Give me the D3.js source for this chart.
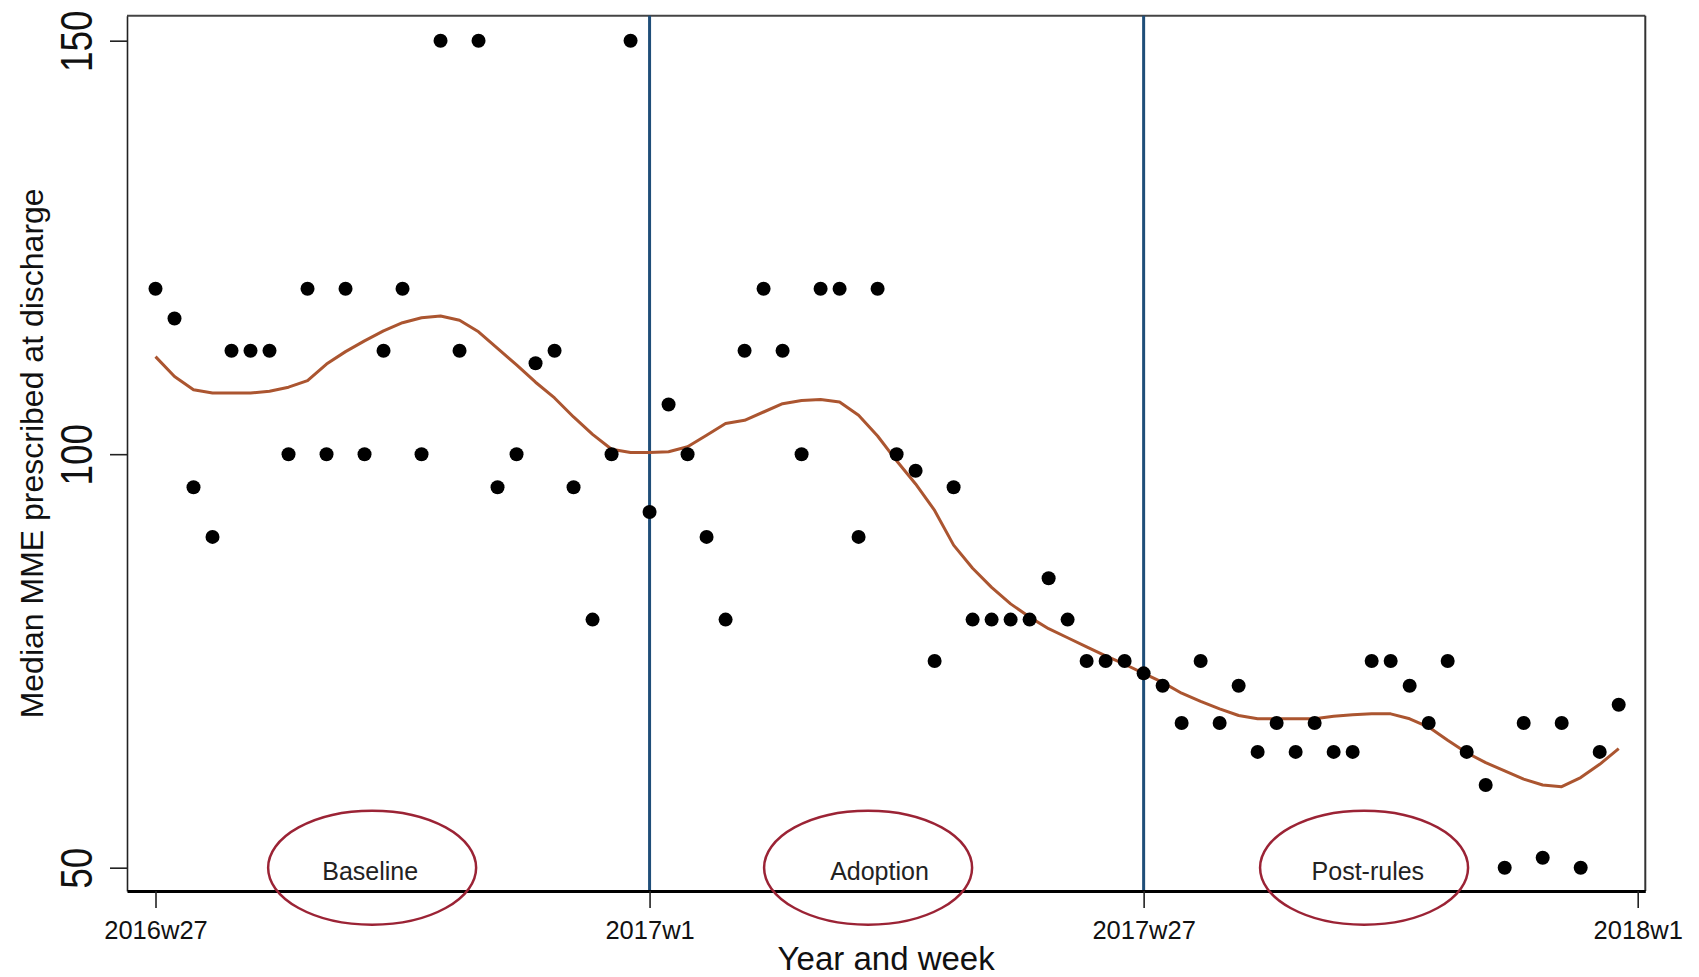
<!DOCTYPE html>
<html>
<head>
<meta charset="utf-8">
<script src="https://cdn.jsdelivr.net/npm/d3@7"></script>
<style>
  body { margin: 0; background: #fff; }
  svg { display: block; font-family: "Liberation Sans", Arial, Helvetica, sans-serif; }
</style>
</head>
<body>
<svg id="chart" width="1699" height="977"></svg>
<script>
// Week index 0 = 2016w27, one entry per week through 2017w52
const weekIndex = d3.range(0, 78);

// Weekly median MME prescribed at discharge
const medianMME = [
  120, 116.4, 96, 90, 112.5, 112.5, 112.5, 100, 120, 100,
  120, 100, 112.5, 120, 100, 150, 112.5, 150, 96, 100,
  111, 112.5, 96, 80, 100, 150, 93, 106, 100, 90,
  80, 112.5, 120, 112.5, 100, 120, 120, 90, 120, 100,
  98, 75, 96, 80, 80, 80, 80, 85, 80, 75,
  75, 75, 73.5, 72, 67.5, 75, 67.5, 72, 64, 67.5,
  64, 67.5, 64, 64, 75, 75, 72, 67.5, 75, 64,
  60, 50, 67.5, 51.2, 67.5, 50, 64, 69.7
];

// Smoothed trend of the weekly medians
const smoothedMME = [
  111.8, 109.4, 107.8, 107.4, 107.4, 107.4, 107.6, 108.1, 108.9, 110.9,
  112.4, 113.7, 114.9, 115.9, 116.5, 116.7, 116.2, 114.8, 112.8, 110.8,
  108.7, 106.8, 104.5, 102.4, 100.6, 100.2, 100.2, 100.3, 100.9, 102.3,
  103.7, 104.1, 105.1, 106.1, 106.5, 106.6, 106.3, 104.7, 102.2, 99.2,
  96.4, 93.2, 89.0, 86.2, 83.9, 81.9, 80.3, 78.9, 77.8, 76.7,
  75.6, 74.6, 73.5, 72.4, 71.1, 70.1, 69.2, 68.4, 68.0, 68.0,
  68.0, 68.0, 68.3, 68.5, 68.6, 68.6, 68.0, 67.0, 65.4, 63.9,
  62.7, 61.7, 60.7, 60.0, 59.8, 60.9, 62.5, 64.4
];

// Axis ticks
const xTickWeeks = [0, 26, 52, 78];
const xTickLabels = ["2016w27", "2017w1", "2017w27", "2018w1"];
const yTickValues = [50, 100, 150];

// Period boundaries (2017w1, 2017w27) and period annotations
const periodBreaks = [26, 52];
const periodNames = ["Baseline", "Adoption", "Post-rules"];
const periodOvalWeeks = [11.4, 37.5, 63.6];
const periodLabelWeeks = [11.3, 38.1, 63.8];
const periodLevel = 50;

const svg = d3.select("#chart");
svg.append("rect").attr("width", 1699).attr("height", 977).attr("fill", "#fff");

const plotLeft = 127, plotRight = 1645.3, plotTop = 15.7, plotBottom = 891;

const x = d3.scaleLinear().domain([-1.5, 78.4]).range([plotLeft, plotRight]);
const y = d3.scaleLinear().domain([47.18, 153.02]).range([plotBottom, plotTop]);

// Top and right frame
svg.append("line").attr("x1", plotLeft).attr("x2", plotRight).attr("y1", plotTop).attr("y2", plotTop)
  .attr("stroke", "#444").attr("stroke-width", 2);
svg.append("line").attr("x1", plotRight).attr("x2", plotRight).attr("y1", plotTop).attr("y2", plotBottom)
  .attr("stroke", "#333").attr("stroke-width", 2);

// Period boundary lines
svg.append("g").selectAll("line").data(periodBreaks).join("line")
  .attr("x1", d => x(d)).attr("x2", d => x(d))
  .attr("y1", plotTop).attr("y2", plotBottom)
  .attr("stroke", "#1f4e79").attr("stroke-width", 3);

// Y axis
const yAxis = svg.append("g").attr("transform", `translate(${plotLeft},0)`)
  .call(d3.axisLeft(y).tickValues(yTickValues).tickSize(17).tickSizeOuter(0).tickFormat(d3.format("d")));
yAxis.select(".domain").attr("stroke", "#222").attr("stroke-width", 1.6);
yAxis.selectAll(".tick line").attr("stroke", "#222").attr("stroke-width", 1.6);
yAxis.selectAll(".tick text")
  .attr("x", null).attr("dy", null)
  .attr("text-anchor", "middle")
  .attr("transform", "translate(-35,0) rotate(-90) scale(1,1.22)")
  .attr("font-size", 37).attr("fill", "#111");

// X axis
const xAxis = svg.append("g").attr("transform", `translate(0,${plotBottom})`)
  .call(d3.axisBottom(x).tickValues(xTickWeeks).tickSize(17).tickSizeOuter(0)
    .tickFormat((d, i) => xTickLabels[i]));
xAxis.select(".domain").attr("stroke", "#000").attr("stroke-width", 2.8);
xAxis.selectAll(".tick line").attr("stroke", "#222").attr("stroke-width", 1.6);
xAxis.selectAll(".tick text")
  .attr("y", 48).attr("dy", null)
  .attr("font-size", 25.5).attr("fill", "#111");

// Axis titles
svg.append("text")
  .attr("transform", `translate(43,${(plotTop + plotBottom) / 2}) rotate(-90)`)
  .attr("text-anchor", "middle").attr("font-size", 32).attr("fill", "#111")
  .text("Median MME prescribed at discharge");
svg.append("text")
  .attr("x", (plotLeft + plotRight) / 2).attr("y", 970)
  .attr("text-anchor", "middle").attr("font-size", 33).attr("fill", "#111")
  .text("Year and week");

// Smoothed trend
svg.append("path")
  .datum(weekIndex)
  .attr("fill", "none").attr("stroke", "#ab5530").attr("stroke-width", 3)
  .attr("stroke-linejoin", "round")
  .attr("d", d3.line().x(i => x(i)).y(i => y(smoothedMME[i])));

// Weekly medians
svg.append("g").selectAll("circle").data(weekIndex).join("circle")
  .attr("cx", i => x(i)).attr("cy", i => y(medianMME[i]))
  .attr("r", 7).attr("fill", "#000");

// Period annotations
const periods = svg.append("g");
periods.selectAll("ellipse").data(periodOvalWeeks).join("ellipse")
  .attr("cx", d => x(d)).attr("cy", y(periodLevel))
  .attr("rx", 104).attr("ry", 57)
  .attr("fill", "none").attr("stroke", "#9b2335").attr("stroke-width", 2.5);
periods.selectAll("text").data(periodNames).join("text")
  .attr("x", (d, i) => x(periodLabelWeeks[i])).attr("y", y(periodLevel) + 12)
  .attr("text-anchor", "middle").attr("font-size", 25).attr("fill", "#222")
  .text(d => d);
</script>
</body>
</html>
